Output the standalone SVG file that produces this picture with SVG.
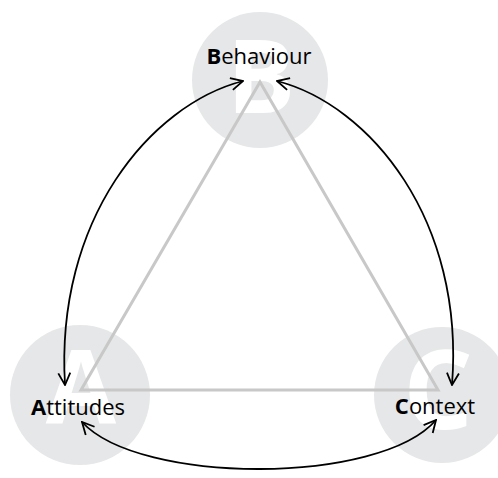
<svg xmlns="http://www.w3.org/2000/svg" width="498" height="478" viewBox="0 0 498 478">
<style>
.circ{fill:#e6e7e8}
.big{font-family:"Open Sans",sans-serif;font-weight:bold;fill:#ffffff;text-anchor:middle}
.lbl{font-family:"Open Sans",sans-serif;font-size:22px;fill:#000000;text-anchor:middle}
.lbl tspan.b{font-weight:bold}
.tri{fill:none;stroke:#c8c8c8;stroke-width:3;stroke-linejoin:miter}
.arc{fill:none;stroke:#000000;stroke-width:1.8}
</style>
<defs>
<marker id="ah" viewBox="0 0 14 14" refX="13" refY="7" markerWidth="14" markerHeight="14" markerUnits="userSpaceOnUse" orient="auto-start-reverse">
<path d="M1,1 L13,7 L1,13" fill="none" stroke="#000" stroke-width="1.8"/>
</marker>
</defs>
<g id="node-behaviour">
<circle class="circ" cx="260" cy="80" r="68"/>
<text class="big" x="261" y="113" font-size="102">B</text>
</g>
<g id="node-attitudes">
<circle class="circ" cx="80" cy="395" r="70"/>
<text class="big" x="81" y="423" font-size="102">A</text>
</g>
<g id="node-context">
<circle class="circ" cx="442" cy="395" r="68"/>
<text class="big" x="438" y="429" font-size="110">C</text>
</g>
<g id="triangle">
<polygon class="tri" points="260,82 81,390 438,390"/>
</g>
<g id="labels">
<text class="lbl" x="259" y="64"><tspan class="b">B</tspan>ehaviour</text>
<text class="lbl" x="78" y="415"><tspan class="b">A</tspan>ttitudes</text>
<text class="lbl" x="435" y="414"><tspan class="b">C</tspan>ontext</text>
</g>
<g id="connectors">
<path class="arc" d="M243,81 C150,105 55,220 65,385" marker-start="url(#ah)" marker-end="url(#ah)"/>
<path class="arc" d="M277,81 C370,105 465,220 452,385" marker-start="url(#ah)" marker-end="url(#ah)"/>
<path class="arc" d="M82,422 C140,485 380,485 436,420" marker-start="url(#ah)" marker-end="url(#ah)"/>
</g>
</svg>
